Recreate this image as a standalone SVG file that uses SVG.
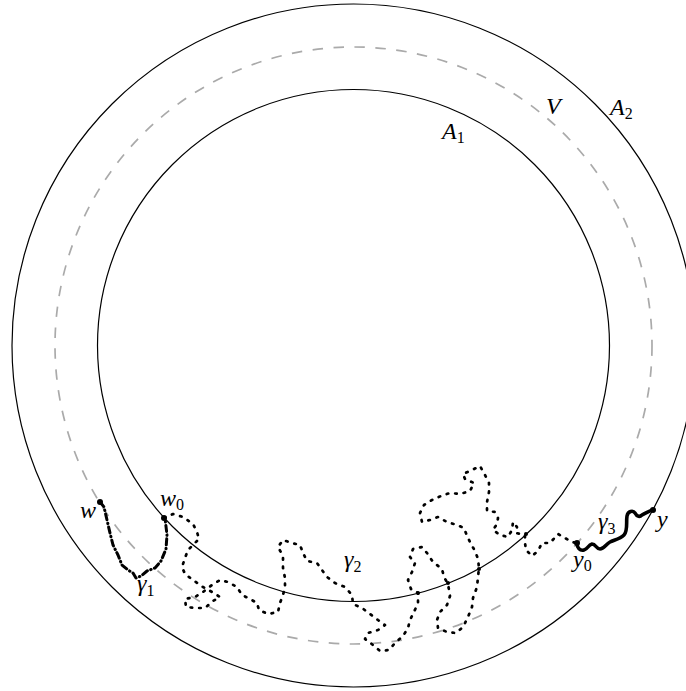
<svg xmlns="http://www.w3.org/2000/svg" width="686" height="691" viewBox="0 0 686 691">
<style>
.ring{fill:none;stroke:#000;stroke-width:1.2}
.vring{fill:none;stroke:#aaa;stroke-width:1.7;stroke-dasharray:10.5 10.5}
.g2{fill:none;stroke:#000;stroke-width:2.7;stroke-linecap:round;stroke-linejoin:round;stroke-dasharray:1.6 7}
.g1{fill:none;stroke:#000;stroke-width:3;stroke-linecap:round;stroke-linejoin:round;stroke-dasharray:6 3.5 0.5 3.5}
.g3{fill:none;stroke:#000;stroke-width:3.6;stroke-linecap:round;stroke-linejoin:round}
.lbl{font-family:"Liberation Serif","DejaVu Serif",serif;font-style:italic;font-size:24px;fill:#000}
.sub{font-family:"Liberation Serif","DejaVu Serif",serif;font-style:normal;font-size:16px;fill:#000}
.pt{fill:#000}
</style>
<rect width="686" height="691" fill="#fff"/>
<g id="A2"><circle class="ring" cx="353.5" cy="345.5" r="341.5"/></g>
<g id="V"><circle class="vring" cx="353.5" cy="345.5" r="298.5"/></g>
<g id="A1"><circle class="ring" cx="353.5" cy="345.5" r="256"/></g>
<g id="connectors">
<polyline id="gamma1" class="g1" points="100,502 104,507 107,520 110,533 113,545 118,555 122,565 128,570 133,573 136,578 141,576 147,571 155,568 161,561 166,549 167,535 165,518"/>
<polyline id="gamma2" class="g2" points="164,518 173,514 183,517 193,524 197,532 199,539 193,545 188,550 185,558 182,567 185,574 193,580 203,587 212,592 220,597 213,601 205,608 195,608 186,607 185,599 195,597 203,592 212,585 220,580 228,582 237,587 242,595 250,599 257,603 259,610 268,614 278,612 280,603 283,595 285,587 285,578 283,568 283,556 278,547 283,540 292,543 300,545 303,553 307,561 317,563 322,570 327,577 335,583 345,587 352,595 353,604 362,608 370,614 378,620 385,625 378,630 368,633 365,639 373,645 380,651 389,650 395,643 403,636 408,628 410,620 414,612 418,603 418,593 411,589 408,580 412,572 415,563 410,557 413,549 422,547 427,553 433,562 442,569 444,577 448,584 450,596 447,605 440,612 437,620 438,628 447,632 456,633 463,627 468,617 472,607 473,598 477,587 478,577 479,568 478,559 475,551 471,544 467,536 464,528 457,525 447,522 438,517 430,520 422,522 420,513 424,505 432,500 441,496 450,493 460,494 470,491 474,483 465,479 463,474 472,470 480,466 485,475 489,483 489,492 487,502 487,511 495,512 498,518 497,524 493,530 500,535 508,537 512,530 513,522 517,527 516,533 525,535 525,543 526,550 532,556 538,551 542,543 550,543 558,534 565,538 572,542 577,543"/>
<path id="gamma3" class="g3" d="M577,543 C577,548 580,551 584,550 C588,549 588,545 592,544 C596,544 596,549 600,549 C604,549 606,544 610,542 C614,540 620,539 624,535 C628,531 626,522 627,516 C628,511 633,510 635,513 C637,517 640,517 642,515 C645,513 648,512 652,510"/>
</g>
<g id="points">
<circle class="pt" cx="100" cy="502" r="3"/>
<circle class="pt" cx="164" cy="518" r="3"/>
<circle class="pt" cx="577" cy="543" r="3"/>
<circle class="pt" cx="653" cy="510" r="3"/>
<circle class="pt" cx="418" cy="593" r="2"/>
<circle class="pt" cx="448" cy="583" r="2"/>
<circle class="pt" cx="479" cy="569" r="2"/>
<circle class="pt" cx="526" cy="534" r="2"/>
</g>
<g id="labels">
<text class="lbl" x="546" y="114">V</text>
<text class="lbl" x="610" y="115">A<tspan class="sub" dy="4">2</tspan></text>
<text class="lbl" x="442" y="139">A<tspan class="sub" dy="4">1</tspan></text>
<text class="lbl" x="80" y="518">w</text>
<text class="lbl" x="160" y="506">w<tspan class="sub" dy="4">0</tspan></text>
<text class="lbl" x="137" y="591">γ<tspan class="sub" dy="5">1</tspan></text>
<text class="lbl" x="344" y="567">γ<tspan class="sub" dy="5">2</tspan></text>
<text class="lbl" x="598" y="529">γ<tspan class="sub" dy="5">3</tspan></text>
<text class="lbl" x="657" y="527">y</text>
<text class="lbl" x="573" y="567">y<tspan class="sub" dy="4">0</tspan></text>
</g>
</svg>
